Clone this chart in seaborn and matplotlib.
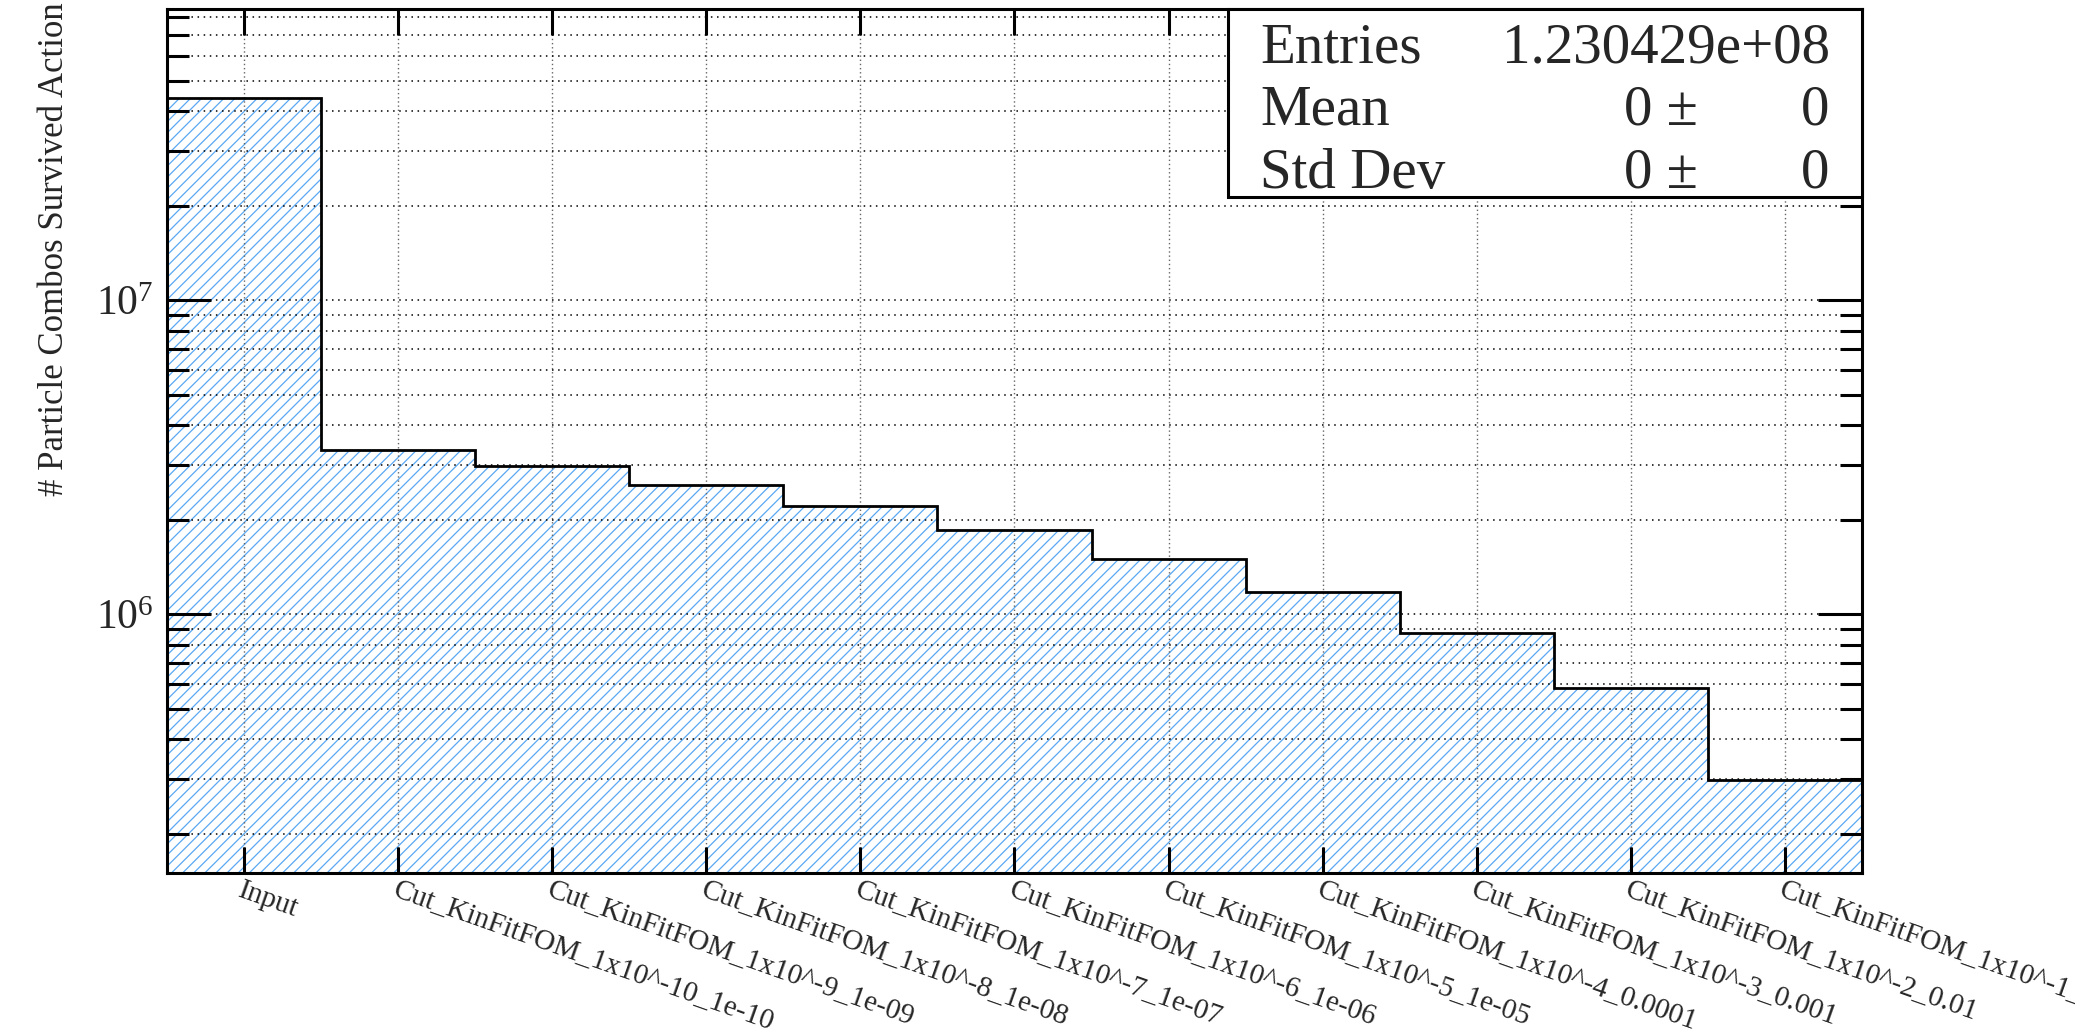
import numpy as np
import pandas as pd
import matplotlib
matplotlib.use("Agg")
import matplotlib.pyplot as plt
import matplotlib.ticker as mticker
from matplotlib.patches import Rectangle
import seaborn as sns

# ---- data ----
actions = [
    "Input",
    "Cut_KinFitFOM_1x10^-10_1e-10",
    "Cut_KinFitFOM_1x10^-9_1e-09",
    "Cut_KinFitFOM_1x10^-8_1e-08",
    "Cut_KinFitFOM_1x10^-7_1e-07",
    "Cut_KinFitFOM_1x10^-6_1e-06",
    "Cut_KinFitFOM_1x10^-5_1e-05",
    "Cut_KinFitFOM_1x10^-4_0.0001",
    "Cut_KinFitFOM_1x10^-3_0.001",
    "Cut_KinFitFOM_1x10^-2_0.01",
    "Cut_KinFitFOM_1x10^-1_0.1",
]
combos = [4.42e7, 3.35e6, 2.97e6, 2.59e6, 2.22e6, 1.86e6,
          1.50e6, 1.18e6, 8.73e5, 5.81e5, 2.97e5]

stat_names = ["Entries", "Mean", "Std Dev"]
stat_values = ["1.230429e+08", "0", "0"]
stat_errors = ["", "0", "0"]

df = pd.DataFrame({"action": actions, "combos": combos})

sns.set_theme(style="ticks")
plt.rcParams["font.family"] = ["Liberation Serif", "DejaVu Serif"]
plt.rcParams["mathtext.fontset"] = "custom"
plt.rcParams["mathtext.rm"] = "Liberation Serif"
plt.rcParams["hatch.linewidth"] = 0.9

hatch_blue = "#5aa8f2"

fig = plt.figure(figsize=(20.75, 10.36), dpi=100)
ax = fig.add_axes([0.0805, 0.1573, 0.8168, 0.8344])

sns.barplot(data=df, x="action", y="combos", width=1.0, ax=ax,
            color=hatch_blue)
ax.set_yscale("log")
for p in ax.patches:
    p.set_facecolor("none")
    p.set_edgecolor(hatch_blue)
    p.set_hatch("///")
    p.set_linewidth(0.01)

# histogram outline
edges = np.arange(len(combos) + 1) - 0.5
ax.stairs(combos, edges, baseline=None, color="black", lw=2, zorder=3)

ax.set_xlim(-0.5, len(combos) - 0.5)
ax.set_ylim(1.5e5, 8.5e7)
ax.set_xlabel("")
ax.set_ylabel("")

# grid: dotted, on top of the hatch
ax.set_axisbelow(False)
ax.yaxis.grid(True, which="both", color="black", lw=1.1, dashes=(1, 3))
ax.xaxis.grid(True, which="major", color="#666666", lw=1, dashes=(1, 2))

# ticks
ax.yaxis.set_major_locator(mticker.LogLocator(base=10))
ax.yaxis.set_minor_locator(mticker.LogLocator(base=10, subs=np.arange(2, 10)))
ax.yaxis.set_minor_formatter(mticker.NullFormatter())
ax.tick_params(axis="both", which="both", direction="in", top=True, right=True,
               width=2.2, color="black")
ax.tick_params(axis="x", which="major", length=19, pad=3)
ax.tick_params(axis="y", which="major", length=32, labelsize=30, pad=10)
ax.tick_params(axis="y", which="minor", length=16)
ax.set_xticks(range(len(actions)))
ax.set_xticklabels(actions, rotation=-19.5, ha="left", va="top",
                   rotation_mode="anchor", fontsize=21)
for s in ax.spines.values():
    s.set_linewidth(2.2)
    s.set_color("black")
    s.set_zorder(5)

fig.text(0.0265, 0.759, "# Particle Combos Survived Action", rotation=90,
         ha="center", va="center", fontsize=25)

# stats box
ax.add_patch(Rectangle((0.626, 0.782), 0.374, 0.218, transform=ax.transAxes,
                       facecolor="white", edgecolor="black", lw=2.2,
                       zorder=6, clip_on=False))
rows_y = [0.938, 0.8665, 0.7925]
for name, val, err, yy in zip(stat_names, stat_values, stat_errors, rows_y):
    ax.text(0.645, yy, name, transform=ax.transAxes, ha="left",
            va="baseline", fontsize=41, zorder=7)
    if err:
        ax.text(0.903, yy, val + " \u00b1", transform=ax.transAxes,
                ha="right", va="baseline", fontsize=41, zorder=7)
        ax.text(0.981, yy, err, transform=ax.transAxes, ha="right",
                va="baseline", fontsize=41, zorder=7)
    else:
        ax.text(0.981, yy, val, transform=ax.transAxes, ha="right",
                va="baseline", fontsize=41, zorder=7)

fig.savefig("out.png", dpi=100)
plt.close("all")
